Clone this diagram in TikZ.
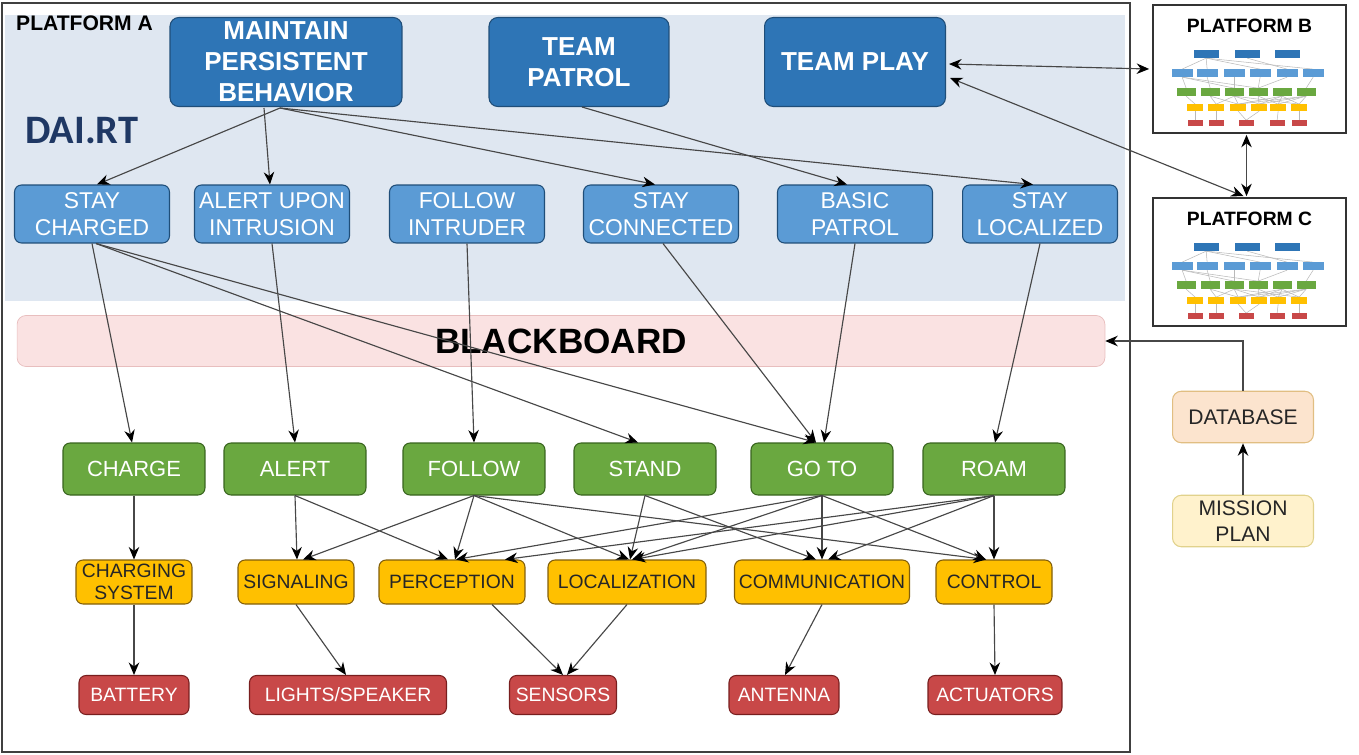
\documentclass[tikz,border=0pt]{standalone}
\usepackage{fontspec}
\setmainfont{Liberation Sans}
\newfontfamily\daifont{Carlito}
\usepackage{tikz}
\usetikzlibrary{arrows.meta, positioning, calc}
\usepackage{xcolor}
\definecolor{topblue}{RGB}{46,117,182}
\definecolor{taskblue}{RGB}{91,155,213}
\definecolor{edgeblue}{RGB}{31,78,121}
\definecolor{bandblue}{RGB}{223,231,241}
\definecolor{boardpink}{RGB}{250,226,226}
\definecolor{boardedge}{RGB}{232,190,190}
\definecolor{skillgreen}{RGB}{106,168,64}
\definecolor{skilledge}{RGB}{56,100,30}
\definecolor{compyellow}{RGB}{255,192,0}
\definecolor{compedge}{RGB}{130,95,10}
\definecolor{hwred}{RGB}{200,72,72}
\definecolor{hwedge}{RGB}{120,30,30}
\definecolor{dbfill}{RGB}{252,228,206}
\definecolor{dbedge}{RGB}{225,190,130}
\definecolor{planfill}{RGB}{255,242,204}
\definecolor{planedge}{RGB}{225,210,140}
\definecolor{daiblue}{RGB}{31,56,100}

\tikzset{
    % miniature of a platform graph
    minitree/.pic={
        \foreach \a/\b in {54/30,54/55,54/108,54/161,95/135}
            \draw[gray!55, line width=0.3pt] (\a,54) -- (\b,65);
        \foreach \a/\b in {30/34,30/106,55/58,82/82,108/106,135/106,161/154,30/82}
            \draw[gray!55, line width=0.3pt] (\a,73) -- (\b,84);
        \foreach \a/\b in {34/43,58/64,58/86,82/64,82/86,82/107,82/147,106/107,106/126,130/86,130/107,130/126,130/147,154/86,154/107,154/126,154/147}
            \draw[gray!55, line width=0.3pt] (\a,92) -- (\b,100);
        \foreach \a/\b in {43/43,64/64,86/94,107/94,126/125,147/147}
            \draw[gray!55, line width=0.3pt] (\a,107) -- (\b,116);
        \foreach \x in {42,83,123}
            \fill[topblue] (\x,46) rectangle ++(25,8);
        \foreach \x in {20,45,72,98,125,151}
            \fill[taskblue] (\x,65) rectangle ++(21,8);
        \foreach \x in {25,49,73,97,121,145}
            \fill[skillgreen] (\x,84) rectangle ++(19,8);
        \foreach \x in {35,56,78,99,118,139}
            \fill[compyellow] (\x,100) rectangle ++(16,7);
        \foreach \x in {36,57,87,118,140}
            \fill[hwred] (\x,116) rectangle ++(15,6);
    }
}

\begin{document}
\begin{tikzpicture}[
    x=0.02cm, y=-0.02cm,
    topbox/.style={rectangle, draw=edgeblue, fill=topblue, rounded corners=5pt, line width=0.6pt, text=white, font=\fontsize{14.8}{17.6}\selectfont\bfseries, align=center, inner sep=0pt, minimum height=1.78cm},
    taskbox/.style={rectangle, draw=edgeblue, fill=taskblue, rounded corners=4pt, line width=0.6pt, text=white, font=\fontsize{13}{15.5}\selectfont, align=center, inner sep=0pt, minimum width=3.1cm, minimum height=1.16cm},
    skillbox/.style={rectangle, draw=skilledge, fill=skillgreen, rounded corners=4pt, line width=0.6pt, text=white, font=\fontsize{12.5}{15}\selectfont, inner sep=0pt, minimum width=2.84cm, minimum height=1.04cm},
    compbox/.style={rectangle, draw=compedge, fill=compyellow, rounded corners=4pt, line width=0.6pt, text=black!85, font=\fontsize{11}{12.5}\selectfont, align=center, inner sep=0pt, minimum height=0.88cm},
    hwbox/.style={rectangle, draw=hwedge, fill=hwred, rounded corners=4pt, line width=0.6pt, text=white, font=\fontsize{11}{13}\selectfont, inner sep=0pt, minimum height=0.78cm},
    sidebox/.style={rectangle, rounded corners=5pt, line width=0.6pt, text=black!85, font=\fontsize{12}{14.5}\selectfont, align=center, inner sep=0pt, minimum width=2.82cm, minimum height=1.03cm},
    platbox/.style={rectangle, draw=black!80, line width=1pt, fill=white, inner sep=0pt, minimum width=3.86cm, minimum height=2.56cm},
    arrow/.style={-{Stealth[length=2.5mm, width=2.1mm, color=black]}, draw=black!72, line width=0.65pt},
    dblarrow/.style={{Stealth[length=2.5mm, width=2.1mm, color=black]}-{Stealth[length=2.5mm, width=2.1mm, color=black]}, draw=black!72, line width=0.65pt}
]
\useasboundingbox (0,0) rectangle (1359,754);

% platform A frame, task band and blackboard
\draw[black!75, line width=1pt] (2,3) rectangle (1130,752);
\fill[bandblue] (5,15) rectangle (1125,301);
\node[rectangle, draw=boardedge, fill=boardpink, rounded corners=5pt, minimum width=21.76cm, minimum height=1.02cm, inner sep=0pt, font=\fontsize{20}{22}\selectfont\bfseries] (bbd) at (561,341) {BLACKBOARD};
\node[anchor=base west, font=\fontsize{12}{14}\selectfont\bfseries] (pla) at (10,30) {PLATFORM A};
\node[anchor=base west, inner sep=0pt, text=daiblue, font=\daifont\fontsize{23}{26}\selectfont\bfseries] (dai) at (25,143) {DAI.RT};

% behaviors
\node[topbox, minimum width=4.64cm] (mpb) at (286,62) {MAINTAIN\\PERSISTENT\\BEHAVIOR};
\node[topbox, minimum width=3.6cm] (tpt) at (579,62) {TEAM\\PATROL};
\node[topbox, minimum width=3.62cm] (tpl) at (855,62) {TEAM PLAY};

% tasks
\node[taskbox] (stc) at (92,214) {STAY\\CHARGED};
\node[taskbox] (aui) at (272,214) {ALERT UPON\\INTRUSION};
\node[taskbox] (fin) at (467,214) {FOLLOW\\INTRUDER};
\node[taskbox] (scn) at (661,214) {STAY\\CONNECTED};
\node[taskbox] (bpt) at (855,214) {BASIC\\PATROL};
\node[taskbox] (slc) at (1040,214) {STAY\\LOCALIZED};

% skills
\node[skillbox] (chg) at (134,469) {CHARGE};
\node[skillbox] (alr) at (295,469) {ALERT};
\node[skillbox] (fol) at (474,469) {FOLLOW};
\node[skillbox] (std) at (645,469) {STAND};
\node[skillbox] (gto) at (822,469) {GO TO};
\node[skillbox] (rom) at (994,469) {ROAM};

% components
\node[compbox, minimum width=2.32cm] (chs) at (134,582) {CHARGING\\SYSTEM};
\node[compbox, minimum width=2.32cm] (sig) at (296,582) {SIGNALING};
\node[compbox, minimum width=2.92cm] (per) at (452,582) {PERCEPTION};
\node[compbox, minimum width=3.16cm] (loc) at (627,582) {LOCALIZATION};
\node[compbox, minimum width=3.5cm] (com) at (822,582) {COMMUNICATION};
\node[compbox, minimum width=2.32cm] (ctl) at (994,582) {CONTROL};

% hardware
\node[hwbox, minimum width=2.2cm] (bat) at (134,695) {BATTERY};
\node[hwbox, minimum width=3.94cm] (lsp) at (348,695) {LIGHTS/SPEAKER};
\node[hwbox, minimum width=2.14cm] (sen) at (563,695) {SENSORS};
\node[hwbox, minimum width=2.2cm] (ant) at (784,695) {ANTENNA};
\node[hwbox, minimum width=2.68cm] (act) at (995,695) {ACTUATORS};

% other platforms and mission data
\node[platbox, label={[anchor=base, yshift=-0.56cm, font=\fontsize{11}{13}\selectfont\bfseries]north:PLATFORM B}] (plb) at (1249.5,69) {};
\node[platbox, label={[anchor=base, yshift=-0.56cm, font=\fontsize{11}{13}\selectfont\bfseries]north:PLATFORM C}] (plc) at (1249.5,262) {};
\pic at (plb.north west) {minitree};
\pic at (plc.north west) {minitree};
\node[sidebox, draw=dbedge, fill=dbfill] (dbs) at (1243,417) {DATABASE};
\node[sidebox, draw=planedge, fill=planfill] (msp) at (1243,521) {MISSION\\PLAN};

% behaviors -> tasks
\draw[arrow] ($(mpb.south)+(-6,1)$) -- ($(stc.north)+(5,0)$);
\draw[arrow] ($(mpb.south)+(-22,1)$) -- ($(aui.north)+(-2,0)$);
\draw[arrow] ($(mpb.south)+(-6,1)$) -- ($(scn.north)+(-6,0)$);
\draw[arrow] ($(mpb.south)+(-6,1)$) -- ($(slc.north)+(-7,0)$);
\draw[arrow] ($(tpt.south)+(3,0)$) -- ($(bpt.north)+(-8,0)$);

% links between platforms
\draw[dblarrow] ($(tpl.east)+(3,2)$) -- ($(plb.west)+(-3,0)$);
\draw[dblarrow] ($(tpl.east)+(4,16)$) -- ($(plc.north)+(-6,-1)$);
\draw[dblarrow] ($(plb.south)+(-3,1)$) -- ($(plc.north)+(-3,-1)$);
\draw[arrow] (dbs.north) |- (bbd.east);
\draw[arrow] (msp.north) -- (dbs.south);

% tasks -> skills
\draw[arrow] (stc.south) -- ($(chg.north)+(-2,0)$);
\draw[arrow] ($(stc.south)+(4,0)$) -- ($(std.north)+(-7,0)$);
\draw[arrow] ($(stc.south)+(4,0)$) -- ($(gto.north)+(-6,0)$);
\draw[arrow] (aui.south) -- (alr.north);
\draw[arrow] (fin.south) -- (fol.north);
\draw[arrow] ($(scn.south)+(2,0)$) -- ($(gto.north)+(-6,0)$);
\draw[arrow] (bpt.south) -- ($(gto.north)+(2,0)$);
\draw[arrow] (slc.south) -- ($(rom.north)+(1,0)$);

% skills -> components
\draw[arrow] (chg.south) -- (chs.north);
\draw[arrow] (alr.south) -- ($(sig.north)+(1,0)$);
\draw[arrow] (alr.south) -- ($(per.north)+(-4,0)$);
\draw[arrow] (fol.south) -- ($(sig.north)+(7,0)$);
\draw[arrow] (fol.south) -- ($(per.north)+(3,0)$);
\draw[arrow] (fol.south) -- ($(loc.north)+(2,0)$);
\draw[arrow] (fol.south) -- ($(ctl.north)+(-8,0)$);
\draw[arrow] (std.south) -- ($(loc.north)+(3,0)$);
\draw[arrow] (std.south) -- ($(com.north)+(-6,0)$);
\draw[arrow] (gto.south) -- ($(per.north)+(4,0)$);
\draw[arrow] (gto.south) -- ($(loc.north)+(5,0)$);
\draw[arrow] (gto.south) -- (com.north);
\draw[arrow] (gto.south) -- ($(ctl.north)+(-8,0)$);
\draw[arrow] (rom.south) -- ($(per.north)+(53,0)$);
\draw[arrow] (rom.south) -- ($(loc.north)+(6,0)$);
\draw[arrow] (rom.south) -- ($(com.north)+(6,0)$);
\draw[arrow] (rom.south) -- (ctl.north);

% components -> hardware
\draw[arrow] (chs.south) -- (bat.north);
\draw[arrow] (sig.south) -- ($(lsp.north)+(-2,0)$);
\draw[arrow] ($(per.south)+(40,0)$) -- (sen.north);
\draw[arrow] (loc.south) -- ($(sen.north)+(4,0)$);
\draw[arrow] (com.south) -- ($(ant.north)+(1,0)$);
\draw[arrow] (ctl.south) -- (act.north);
\end{tikzpicture}
\end{document}
